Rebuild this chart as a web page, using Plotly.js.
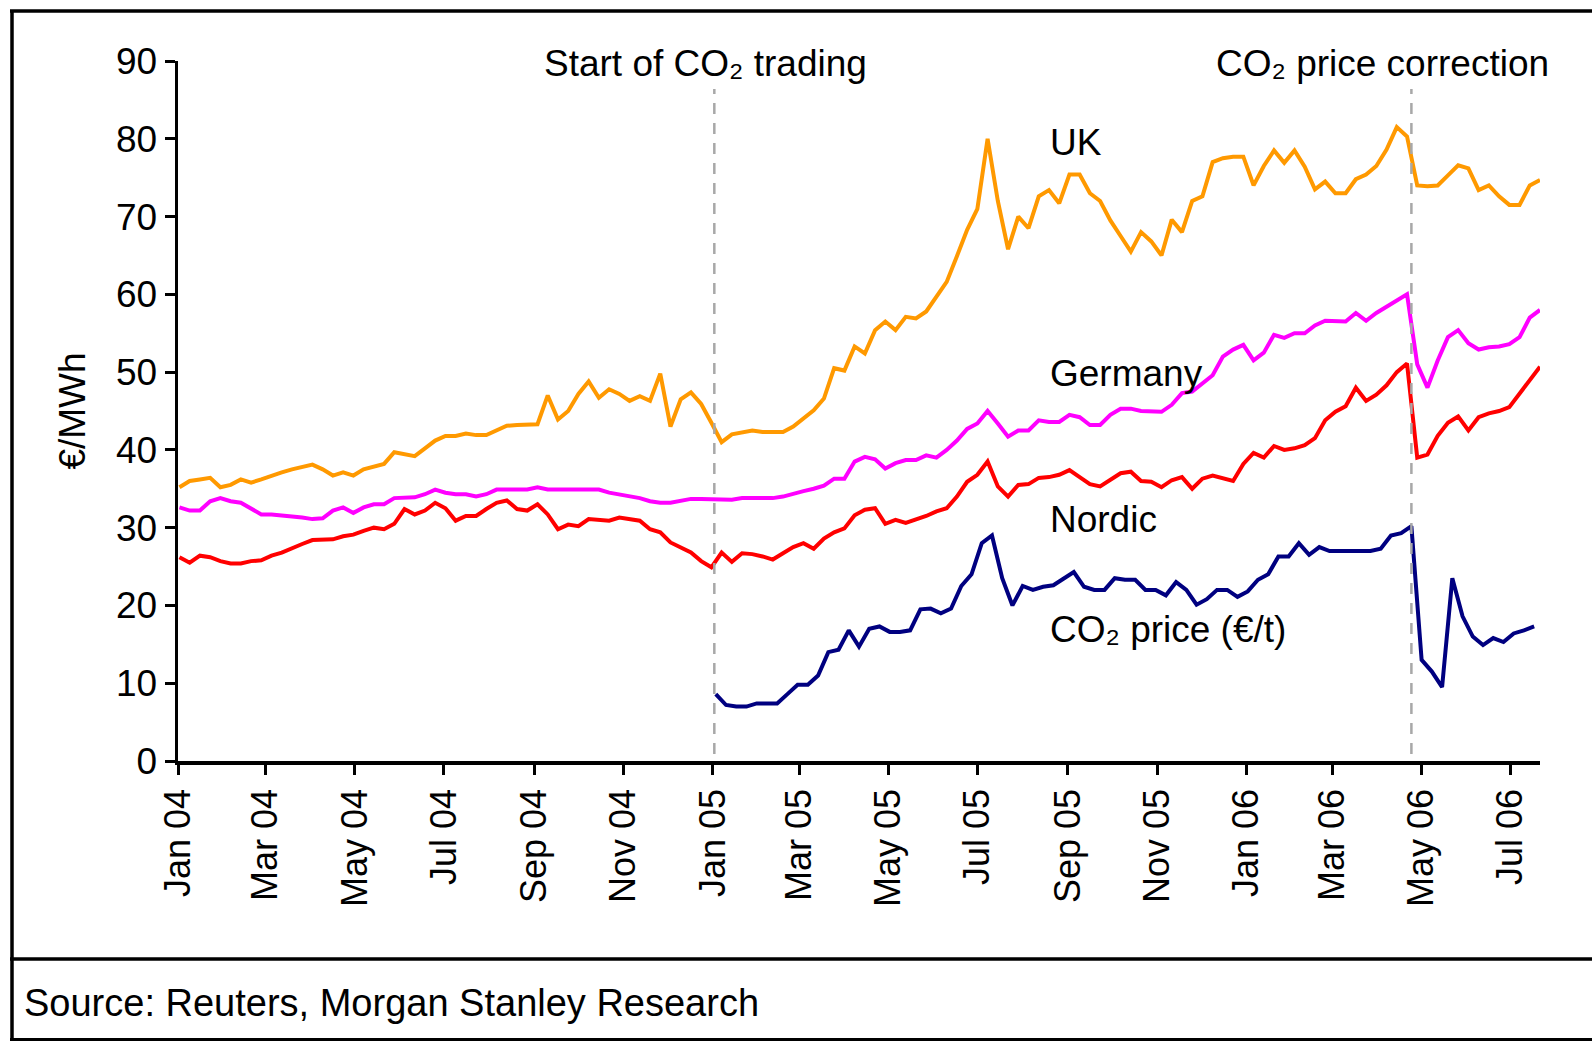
<!DOCTYPE html>
<html>
<head>
<meta charset="utf-8">
<script src="https://cdn.plot.ly/plotly-3.0.1.min.js"></script>
<style>
  html, body { margin: 0; padding: 0; background: #ffffff; }
  #chart { width: 1592px; height: 1041px; }
</style>
</head>
<body>
<div id="chart"></div>
<script>
// ---- Data (weekly readings) ----
const powerStart = '2004-01-02';   // first weekly observation for power prices
const co2Start = '2005-01-03';     // first weekly observation for CO2 price
const weekMs = 7 * 24 * 3600 * 1000;

const ukPrice = [
  35.2,36.0,36.2,36.4,35.2,35.5,36.2,35.8,36.2,36.7,37.1,37.5,37.8,38.1,37.5,36.7,37.1,36.7,37.5,37.8,
  38.2,39.7,39.5,39.2,40.2,41.2,41.8,41.8,42.1,41.9,41.9,42.5,43.1,43.2,43.2,43.3,47.0,43.9,45.0,47.2,
  48.8,46.7,47.8,47.2,46.3,46.9,46.3,49.8,43.0,46.5,47.4,45.9,43.5,41.0,42.0,42.3,42.5,42.3,42.3,42.3,
  43.0,44.0,45.1,46.6,50.5,50.2,53.3,52.4,55.4,56.5,55.4,57.1,56.9,57.8,59.7,61.6,64.9,68.3,71.0,80.0,
  72.0,65.8,70.0,68.5,72.6,73.4,71.7,75.4,75.4,73.0,72.0,69.5,67.5,65.5,68.0,66.8,65.0,69.6,68.0,72.0,
  72.6,77.0,77.5,77.7,77.7,74.0,76.5,78.5,76.9,78.5,76.4,73.5,74.5,73.0,73.0,74.8,75.4,76.5,78.6,81.5,
  80.3,74.0,73.9,74.0,75.3,76.6,76.2,73.4,74.0,72.6,71.5,71.5,74.0,74.7
];

const germanyPrice = [
  32.6,32.2,32.2,33.4,33.8,33.4,33.2,32.4,31.7,31.7,31.6,31.5,31.3,31.1,31.2,32.2,32.6,31.9,32.6,33.0,
  33.0,33.8,33.9,33.9,34.3,34.9,34.5,34.3,34.3,34.0,34.3,34.9,34.9,34.9,34.9,35.2,34.9,34.9,34.9,34.9,
  34.9,34.9,34.5,34.3,34.0,33.8,33.4,33.2,33.2,33.4,33.7,33.7,33.7,33.6,33.6,33.8,33.8,33.8,33.8,34.0,
  34.4,34.7,35.0,35.4,36.3,36.3,38.5,39.1,38.8,37.6,38.3,38.7,38.7,39.3,39.0,40.0,41.2,42.7,43.4,45.0,
  43.4,41.7,42.5,42.5,43.8,43.6,43.6,44.5,44.2,43.2,43.2,44.5,45.3,45.3,45.0,44.9,44.9,45.8,47.3,47.5,
  48.6,49.6,52.0,52.9,53.5,51.5,52.5,54.8,54.4,55.0,55.0,56.0,56.6,56.5,56.5,57.6,56.6,57.6,58.4,59.3,
  60.0,51.0,48.0,51.5,54.5,55.4,53.7,52.9,53.2,53.3,53.6,54.5,57.0,58.0
];

const nordicPrice = [
  26.2,25.5,26.4,26.2,25.7,25.4,25.4,25.7,25.8,26.4,26.8,27.4,27.9,28.4,28.5,28.5,28.9,29.1,29.6,30.0,
  29.8,30.5,32.4,31.7,32.2,33.2,32.5,30.9,31.5,31.5,32.4,33.2,33.5,32.4,32.2,33.0,31.7,29.8,30.4,30.2,
  31.1,31.0,30.9,31.3,31.1,30.9,29.8,29.4,28.1,27.4,26.8,25.7,24.9,26.8,25.6,26.7,26.6,26.3,25.9,26.7,
  27.5,28.0,27.3,28.6,29.4,29.9,31.6,32.3,32.5,30.5,31.0,30.6,31.0,31.5,32.1,32.5,34.0,35.9,36.8,38.5,
  35.3,34.0,35.5,35.6,36.4,36.5,36.8,37.4,36.5,35.6,35.3,36.2,37.0,37.2,36.0,35.9,35.2,36.1,36.5,35.0,
  36.3,36.7,36.3,36.0,38.2,39.6,39.0,40.5,40.0,40.2,40.6,41.5,43.8,44.9,45.6,48.0,46.3,47.1,48.3,50.0,
  51.1,39.0,39.4,41.8,43.5,44.3,42.5,44.2,44.7,45.0,45.5,47.2,49.0,50.7
];

const co2Price = [
  8.6,7.2,7.0,7.0,7.4,7.4,7.4,8.6,9.8,9.8,11.0,14.0,14.3,16.8,14.7,17.0,17.3,16.6,16.6,16.8,
  19.5,19.6,19.0,19.6,22.5,24.0,28.0,29.0,23.5,20.0,22.5,22.0,22.4,22.6,23.5,24.3,22.4,22.0,22.0,23.5,
  23.3,23.3,22.0,22.0,21.3,23.0,22.0,20.1,20.8,22.0,22.0,21.1,21.8,23.3,24.0,26.3,26.3,28.0,26.5,27.5,
  27.0,27.0,27.0,27.0,27.0,27.3,29.0,29.3,30.2,13.0,11.5,9.5,23.5,18.6,16.0,14.9,15.8,15.3,16.4,16.8,
  17.3
];

const tickDates = [
  '2004-01-01','2004-03-01','2004-05-01','2004-07-01','2004-09-01','2004-11-01',
  '2005-01-01','2005-03-01','2005-05-01','2005-07-01','2005-09-01','2005-11-01',
  '2006-01-01','2006-03-01','2006-05-01','2006-07-01'
];
const tickLabels = [
  'Jan 04','Mar 04','May 04','Jul 04','Sep 04','Nov 04',
  'Jan 05','Mar 05','May 05','Jul 05','Sep 05','Nov 05',
  'Jan 06','Mar 06','May 06','Jul 06'
];
const yTicks = [0,10,20,30,40,50,60,70,80,90];

const eventDates = ['2005-01-02', '2006-04-24'];
const eventLabels = ['Start of CO₂ trading', 'CO₂ price correction'];
const seriesLabels = ['UK', 'Germany', 'Nordic', 'CO₂ price (€/t)'];
const seriesLabelY = [79.5, 49.8, 31.1, 16.9];
const sourceText = 'Source: Reuters, Morgan Stanley Research';

// ---- Chart ----
const FONT = 'Liberation Sans, Arial, Helvetica, sans-serif';
function lineTrace(name, x0, y, color) {
  return {
    type: 'scatter', mode: 'lines', name: name,
    x0: x0, dx: weekMs, y: y,
    line: { color: color, width: 4 },
    hoverinfo: 'skip'
  };
}

const traces = [
  lineTrace('UK', powerStart, ukPrice, '#FF9900'),
  lineTrace('Germany', powerStart, germanyPrice, '#FF00FF'),
  lineTrace('Nordic', powerStart, nordicPrice, '#FF0000'),
  lineTrace('CO₂ price (€/t)', co2Start, co2Price, '#000080')
];

// plot area in pixels: x 178..1540, y 61..761
const PL = 178, PR = 1540, PT = 61, PB = 761;
const px = X => (X - PL) / (PR - PL);
const py = Y => (PB - Y) / (PB - PT);

const shapes = [];
eventDates.forEach(d => shapes.push({
  type: 'line', xref: 'x', yref: 'y', x0: d, x1: d, y0: 0.9, y1: 86.4,
  line: { color: '#a8a8a8', width: 2.5, dash: '11px,9px' }, layer: 'above'
}));
// outer frame (box around chart and source area)
const frame = { color: '#000000', width: 3.5 };
shapes.push({ type: 'line', xref: 'paper', yref: 'paper', x0: px(12), x1: px(12), y0: py(10), y1: py(1045), line: frame });
shapes.push({ type: 'line', xref: 'paper', yref: 'paper', x0: px(10), x1: px(1600), y0: py(11), y1: py(11), line: frame });
shapes.push({ type: 'line', xref: 'paper', yref: 'paper', x0: px(10), x1: px(1600), y0: py(959), y1: py(959), line: frame });
shapes.push({ type: 'line', xref: 'paper', yref: 'paper', x0: px(10), x1: px(1600), y0: py(1039.5), y1: py(1039.5), line: { color: '#000000', width: 3 } });

const annFont = { family: FONT, size: 37, color: '#000000' };
const annotations = [
  { text: eventLabels[0], xref: 'paper', yref: 'paper', x: px(705), y: py(63),
    xanchor: 'center', yanchor: 'middle', showarrow: false, font: annFont },
  { text: eventLabels[1], xref: 'paper', yref: 'paper', x: px(1382), y: py(63),
    xanchor: 'center', yanchor: 'middle', showarrow: false, font: annFont },
  { text: sourceText, xref: 'paper', yref: 'paper', x: px(22), y: py(1003),
    xanchor: 'left', yanchor: 'middle', showarrow: false, font: { family: FONT, size: 38, color: '#000000' } }
];
seriesLabels.forEach((t, k) => annotations.push({
  text: t, xref: 'paper', yref: 'y', x: px(1048), y: seriesLabelY[k],
  xanchor: 'left', yanchor: 'middle', showarrow: false, font: annFont
}));

const layout = {
  width: 1592, height: 1041,
  margin: { l: PL, r: 1592 - PR, t: PT, b: 1041 - PB, pad: 0 },
  paper_bgcolor: '#ffffff', plot_bgcolor: '#ffffff',
  showlegend: false,
  font: { family: FONT, color: '#000000' },
  xaxis: {
    type: 'date', range: ['2004-01-01', '2006-07-21'],
    tickvals: tickDates, ticktext: tickLabels, tickangle: -90,
    tickfont: { family: FONT, size: 36, color: '#000000' },
    ticks: 'outside', ticklen: 10, tickwidth: 3, tickcolor: '#000000',
    showline: true, linecolor: '#000000', linewidth: 3.5,
    showgrid: false, zeroline: false, fixedrange: true
  },
  yaxis: {
    range: [0, 90], tickvals: yTicks,
    tickfont: { family: FONT, size: 37, color: '#000000' },
    ticks: 'outside', ticklen: 10, tickwidth: 3, tickcolor: '#000000',
    showline: true, linecolor: '#000000', linewidth: 3.5,
    showgrid: false, zeroline: false, fixedrange: true,
    title: { text: '€/MWh', font: { family: FONT, size: 37, color: '#000000' }, standoff: 20 }
  },
  shapes: shapes,
  annotations: annotations
};

Plotly.newPlot('chart', traces, layout, { staticPlot: true, displayModeBar: false });
</script>
</body>
</html>
